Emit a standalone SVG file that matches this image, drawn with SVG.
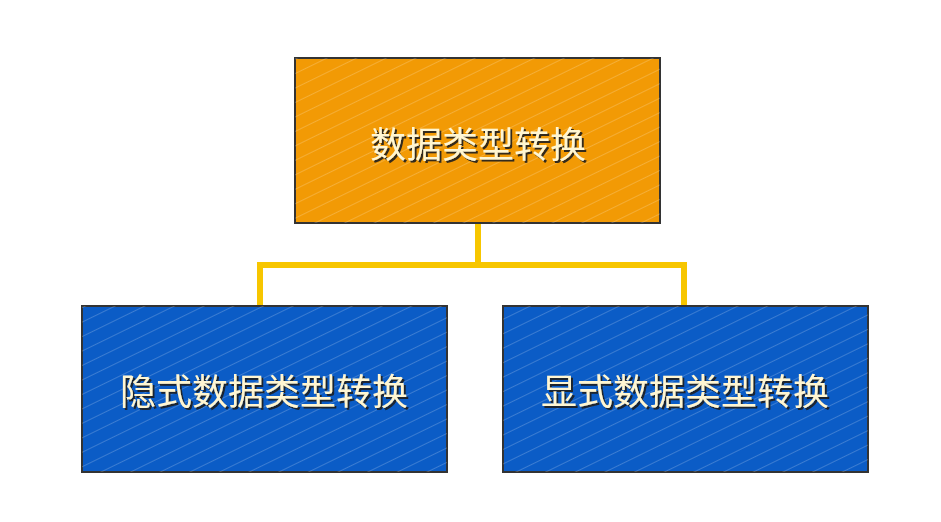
<svg xmlns="http://www.w3.org/2000/svg" width="941" height="522" viewBox="0 0 941 522">
<defs>
<pattern id="stripes" patternUnits="userSpaceOnUse" width="13" height="13" patternTransform="rotate(-26)">
<line x1="0" y1="0.5" x2="13" y2="0.5" stroke="#ffffff" stroke-opacity="0.2" stroke-width="1"/>
</pattern>
<filter id="shadow" x="-10%" y="-10%" width="120%" height="130%">
<feDropShadow dx="2" dy="2" stdDeviation="0.6" flood-color="#1a1a1a" flood-opacity="0.9"/>
</filter>
</defs>
<style>
.box{stroke:#333333;stroke-width:2}
.orange{fill:#F29A05}
.blue{fill:#0B5CC6}
.lbl{font-family:"Noto Sans CJK SC","Noto Sans CJK TC",sans-serif;font-size:36px;fill:#FFF6D2;text-anchor:middle;dominant-baseline:central;filter:url(#shadow)}
.conn{fill:none;stroke:#F7C600;stroke-width:6}
</style>
<rect width="941" height="522" fill="#ffffff"/>
<g id="connectors">
<polyline class="conn" points="478,223 478,265"/>
<polyline class="conn" points="260,305 260,265 684,265 684,305"/>
</g>
<g id="node-root">
<rect class="box orange" x="295" y="58" width="365" height="165"/>
<rect x="295" y="58" width="365" height="165" fill="url(#stripes)"/>
<text class="lbl" x="478" y="142">数据类型转换</text>
</g>
<g id="node-implicit">
<rect class="box blue" x="82" y="306" width="365" height="166"/>
<rect x="82" y="306" width="365" height="166" fill="url(#stripes)"/>
<text class="lbl" x="264" y="389">隐式数据类型转换</text>
</g>
<g id="node-explicit">
<rect class="box blue" x="503" y="306" width="365" height="166"/>
<rect x="503" y="306" width="365" height="166" fill="url(#stripes)"/>
<text class="lbl" x="685" y="389">显式数据类型转换</text>
</g>
</svg>
